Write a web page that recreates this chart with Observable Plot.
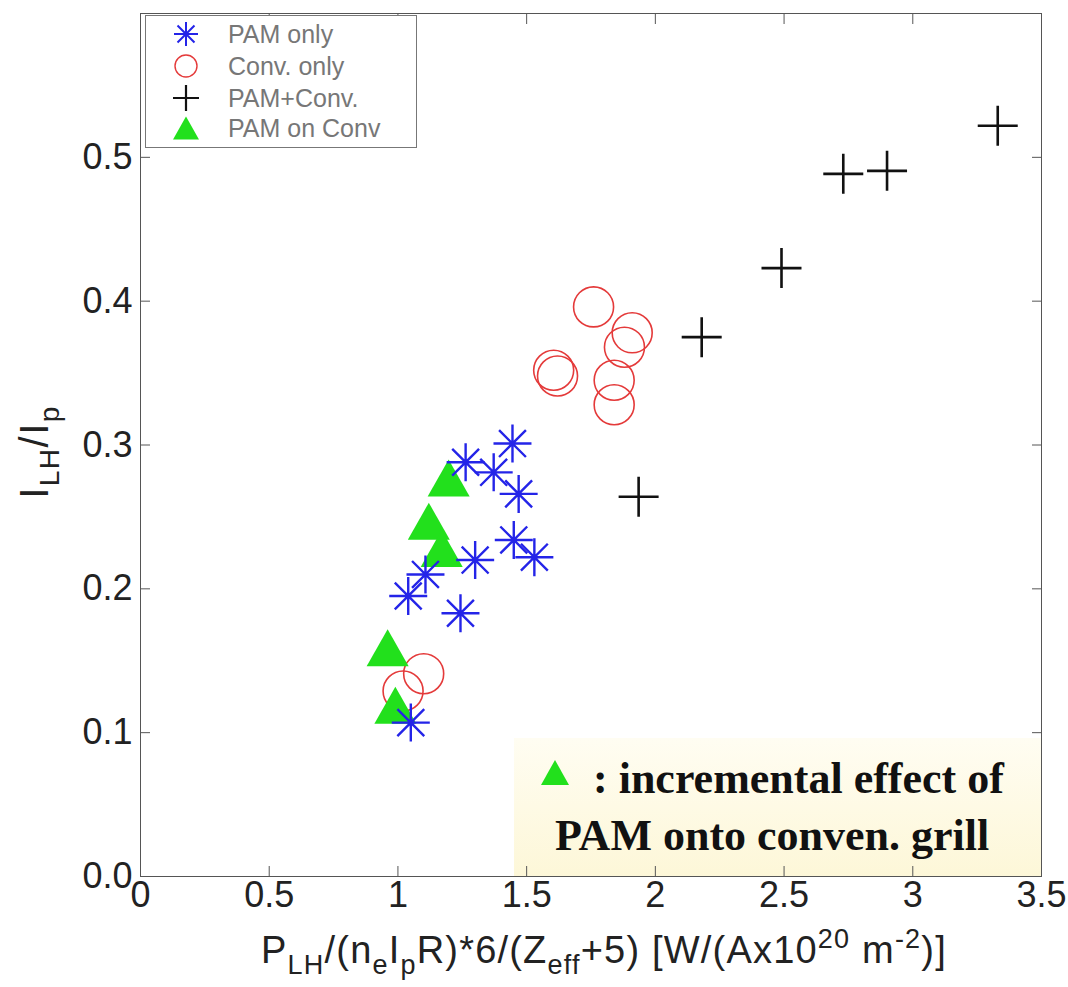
<!DOCTYPE html>
<html>
<head>
<meta charset="utf-8">
<script src="https://cdn.jsdelivr.net/npm/d3@7"></script>
<script src="https://cdn.jsdelivr.net/npm/@observablehq/plot@0.6"></script>
<style>
  html, body { margin: 0; padding: 0; background: #fff; }
  #wrap { position: relative; width: 1068px; height: 987px; overflow: hidden; }
  #note { position: absolute; left: 514px; top: 738px; width: 527px; height: 138px;
          background: linear-gradient(#fffdf2, #fdf7d8); z-index: 0; }
  #chart { position: absolute; left: 0; top: 0; z-index: 1; }
  #legend { position: absolute; left: 145px; top: 15px; width: 272px; height: 133px;
            border: 1px solid #777; background: #fff; box-sizing: border-box; z-index: 2;
            font-family: "Liberation Sans", Arial, sans-serif; font-size: 25px; color: #777; }
  .row { position: absolute; left: 0; height: 30px; width: 270px; }
  .row svg { position: absolute; left: 22px; top: 0; }
  .row span { position: absolute; left: 82px; top: 0; line-height: 30px; white-space: nowrap; }
</style>
</head>
<body>
<div id="wrap">
  <div id="note"></div>
  <div id="chart"></div>
  <div id="legend"></div>
</div>
<script>
// ---- data ----
const seriesNames = ["PAM only", "Conv. only", "PAM+Conv.", "PAM on Conv"];

const pamOnlyX = [1.445, 1.263, 1.372, 1.469, 1.45, 1.53, 1.30, 1.107, 1.04, 1.243, 1.05];
const pamOnlyY = [0.301, 0.288, 0.281, 0.266, 0.234, 0.222, 0.220, 0.210, 0.195, 0.183, 0.107];

const convOnlyX = [1.76, 1.91, 1.88, 1.605, 1.62, 1.84, 1.84, 1.02, 1.10];
const convOnlyY = [0.396, 0.378, 0.368, 0.352, 0.348, 0.345, 0.328, 0.129, 0.141];

const pamConvX = [3.33, 2.73, 2.90, 2.49, 2.18, 1.935];
const pamConvY = [0.522, 0.4885, 0.4906, 0.423, 0.375, 0.264];

const pamOnConvX = [1.197, 1.12, 1.17, 0.96, 0.99];
const pamOnConvY = [0.277, 0.247, 0.228, 0.159, 0.119];

const xTicks = [0, 0.5, 1, 1.5, 2, 2.5, 3, 3.5];
const yTicks = [0, 0.1, 0.2, 0.3, 0.4, 0.5];

const colors = { pam: "#2424e8", conv: "#e43a3a", both: "#111111", onconv: "#22e01c" };

// ---- build tables ----
const zip = (xs, ys) => xs.map((x, i) => ({ x, y: ys[i] }));
const pamOnly = zip(pamOnlyX, pamOnlyY);
const convOnly = zip(convOnlyX, convOnlyY);
const pamConv = zip(pamConvX, pamConvY);
const pamOnConv = zip(pamOnConvX, pamOnConvY);

// ---- custom Matlab-like symbols ----
const asterisk8 = { draw(ctx, size) {
  const r = Math.sqrt(size / Math.PI), d = r * Math.SQRT1_2;
  ctx.moveTo(-r, 0); ctx.lineTo(r, 0);
  ctx.moveTo(0, -r); ctx.lineTo(0, r);
  ctx.moveTo(-d, -d); ctx.lineTo(d, d);
  ctx.moveTo(-d, d); ctx.lineTo(d, -d);
}};
const plusSym = { draw(ctx, size) {
  const r = Math.sqrt(size / Math.PI);
  ctx.moveTo(-r, 0); ctx.lineTo(r, 0);
  ctx.moveTo(0, -r); ctx.lineTo(0, r);
}};
const triSym = { draw(ctx, size) {
  const r = Math.sqrt(size / Math.PI), h = r * 1.76;
  ctx.moveTo(0, -h / 2); ctx.lineTo(r, h / 2); ctx.lineTo(-r, h / 2); ctx.closePath();
}};

const font = "'Liberation Sans', Arial, Helvetica, sans-serif";

const chart = Plot.plot({
  width: 1068, height: 987,
  marginLeft: 140, marginRight: 27, marginTop: 13, marginBottom: 111,
  style: { background: "transparent", fontFamily: font, overflow: "visible" },
  x: { domain: [0, 3.5] },
  y: { domain: [0, 0.6] },
  marks: [
    Plot.axisX(xTicks, { anchor: "bottom", tickSize: -10, tickPadding: 15, fontSize: 36,
      tickFormat: d => String(d), label: null, stroke: "#555", fill: "#222" }),
    Plot.axisX(xTicks, { anchor: "top", tickSize: -10, tickFormat: () => "", label: null, stroke: "#555" }),
    Plot.axisY(yTicks, { anchor: "left", tickSize: -10, tickPadding: 18, fontSize: 36,
      tickFormat: d3.format(".1f"), label: null, stroke: "#555", fill: "#222" }),
    Plot.axisY(yTicks, { anchor: "right", tickSize: -10, tickFormat: () => "", label: null, stroke: "#555" }),
    Plot.frame({ stroke: "#555" }),
    Plot.dot(convOnly, { x: "x", y: "y", r: 20, symbol: "circle", fill: "none", stroke: colors.conv, strokeWidth: 1.6 }),
    Plot.dot(pamOnConv, { x: "x", y: "y", r: 21, symbol: triSym, fill: colors.onconv, stroke: "none" }),
    Plot.dot(pamOnly, { x: "x", y: "y", r: 19, symbol: asterisk8, fill: "none", stroke: colors.pam, strokeWidth: 2.4 }),
    Plot.dot(pamConv, { x: "x", y: "y", r: 20, symbol: plusSym, fill: "none", stroke: colors.both, strokeWidth: 2.6 })
  ]
});
document.getElementById("chart").appendChild(chart);

// ---- axis titles with sub/superscripts ----
const svg = d3.select(chart);
function rich(sel, parts, small, shift) {
  let cur = 0;
  for (const [t, k] of parts) {
    const target = k === "sub" ? shift : k === "sup" ? -shift * 1.35 : 0;
    const ts = sel.append("tspan").text(t).attr("dy", target - cur);
    if (k !== "n") ts.attr("font-size", small);
    cur = target;
  }
}
const xl = svg.append("text").attr("x", 604).attr("y", 963).attr("text-anchor", "middle")
  .attr("font-family", font).attr("font-size", 38).attr("letter-spacing", 1.2).attr("fill", "#222");
rich(xl, [["P", "n"], ["LH", "sub"], ["/(n", "n"], ["e", "sub"], ["I", "n"], ["p", "sub"],
          ["R)*6/(Z", "n"], ["eff", "sub"], ["+5) [W/(Ax10", "n"], ["20", "sup"], [" m", "n"],
          ["-2", "sup"], [")]", "n"]], 27, 11);

const yl = svg.append("text").attr("transform", "translate(48,452) rotate(-90)").attr("text-anchor", "middle")
  .attr("font-family", font).attr("font-size", 40).attr("letter-spacing", 1.5).attr("fill", "#222");
rich(yl, [["I", "n"], ["LH", "sub"], ["/I", "n"], ["p", "sub"]], 28, 11);

// ---- annotation ----
const ann = svg.append("g").attr("font-family", "'Liberation Serif', 'Times New Roman', serif")
  .attr("font-weight", "bold").attr("font-size", 44).attr("fill", "#111").attr("text-anchor", "start");
ann.append("path").attr("d", "M555,760 L569,785 L541,785 Z").attr("fill", colors.onconv);
ann.append("text").attr("x", 593).attr("y", 793).attr("text-anchor", "start").text(": incremental effect of");
ann.append("text").attr("x", 555).attr("y", 850).attr("text-anchor", "start").text("PAM onto conven. grill");

// ---- legend ----
const legend = d3.select("#legend");
const legendSyms = [
  { sym: asterisk8, r: 12, fill: "none", stroke: colors.pam, sw: 2 },
  { sym: d3.symbolCircle, r: 11, fill: "none", stroke: colors.conv, sw: 1.4 },
  { sym: plusSym, r: 13, fill: "none", stroke: colors.both, sw: 2.2 },
  { sym: triSym, r: 13, fill: colors.onconv, stroke: "none", sw: 0 }
];
const rowTops = [3, 35, 67, 97];
seriesNames.forEach((name, i) => {
  const row = legend.append("div").attr("class", "row").style("top", rowTops[i] + "px");
  const s = legendSyms[i];
  const sv = row.append("svg").attr("width", 36).attr("height", 30);
  sv.append("path").attr("transform", "translate(18,15)")
    .attr("d", d3.symbol(s.sym, Math.PI * s.r * s.r)())
    .attr("fill", s.fill).attr("stroke", s.stroke).attr("stroke-width", s.sw);
  row.append("span").text(name);
});
</script>
</body>
</html>
